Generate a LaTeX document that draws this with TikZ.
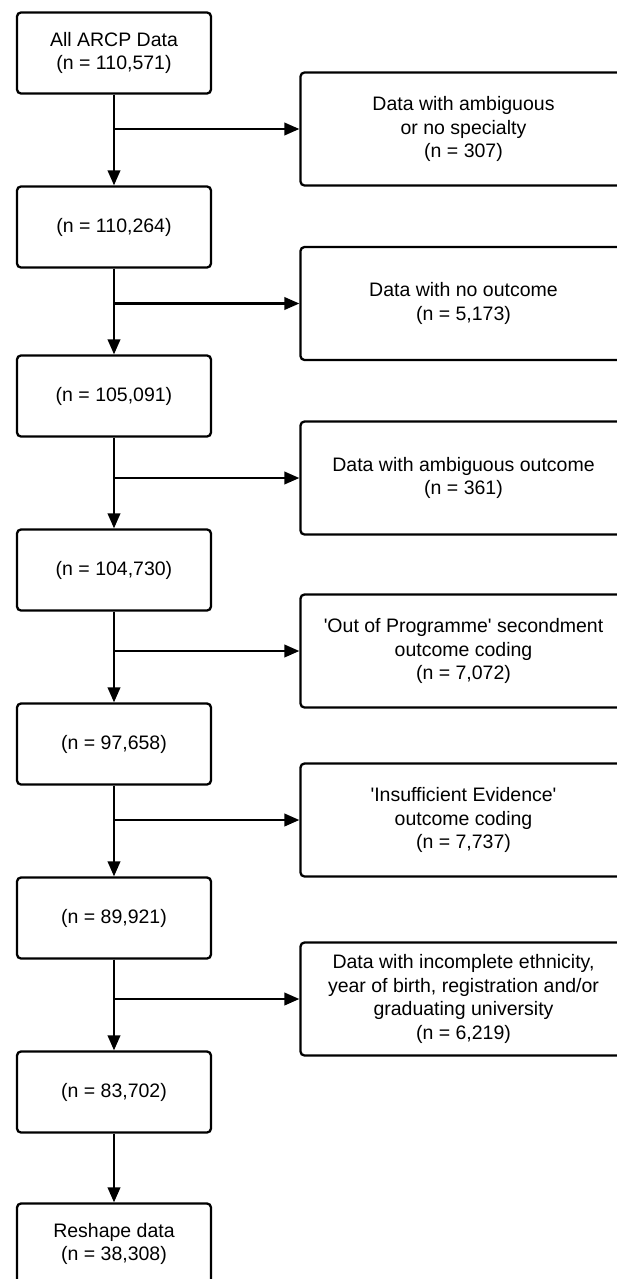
\documentclass[tikz,border=0pt]{standalone}
\usepackage{fontspec}
\newfontfamily\lib{Liberation Sans}
\usetikzlibrary{arrows.meta}
\begin{document}
\begin{tikzpicture}[x=1pt,y=-1pt,
  box/.style={draw,line width=2.3pt,rounded corners=4pt,align=center,inner sep=0pt,
    font=\lib\fontsize{19.5}{23.5}\selectfont},
  lbox/.style={box,minimum width=194pt,minimum height=81pt},
  rbox/.style={box,minimum width=326pt,minimum height=113pt},
  arr/.style={line width=2.3pt,-{Triangle[length=15pt,width=12.5pt]}}]
\useasboundingbox (0,0) rectangle (617,1279);
\clip (0,0) rectangle (617,1279);
\fill[white] (0,0) rectangle (617,1279);
% left column
\node[lbox] (b1) at (114,53) {All ARCP Data\\(n = 110,571)};
\node[lbox] (b2) at (114,227) {(n = 110,264)};
\node[lbox] (b3) at (114,396) {(n = 105,091)};
\node[lbox] (b4) at (114,570) {(n = 104,730)};
\node[lbox] (b5) at (114,744) {(n = 97,658)};
\node[lbox] (b6) at (114,918) {(n = 89,921)};
\node[lbox] (b7) at (114,1092) {(n = 83,702)};
\node[lbox] (b8) at (114,1244) {Reshape data\\(n = 38,308)};
% right column
\node[rbox] (r1) at (463.5,129) {Data with ambiguous\\or no specialty\\(n = 307)};
\node[rbox] (r2) at (463.5,303.5) {Data with no outcome\\(n = 5,173)};
\node[rbox] (r3) at (463.5,478) {Data with ambiguous outcome\\(n = 361)};
\node[rbox] (r4) at (463.5,651) {'Out of Programme' secondment\\outcome coding\\(n = 7,072)};
\node[rbox] (r5) at (463.5,820) {'Insufficient Evidence'\\outcome coding\\(n = 7,737)};
\node[rbox] (r6) at (463.5,999) {Data with incomplete ethnicity,\\year of birth, registration and/or\\graduating university\\(n = 6,219)};
% connectors
\foreach \a/\b in {b1/b2,b2/b3,b3/b4,b4/b5,b5/b6,b6/b7,b7/b8}
  \draw[arr] (\a) -- (\b);
\foreach \a/\b in {b1/r1,b2/r2,b3/r3,b4/r4,b5/r5,b6/r6}
  \draw[arr] (\a) |- (\b);
\end{tikzpicture}
\end{document}
